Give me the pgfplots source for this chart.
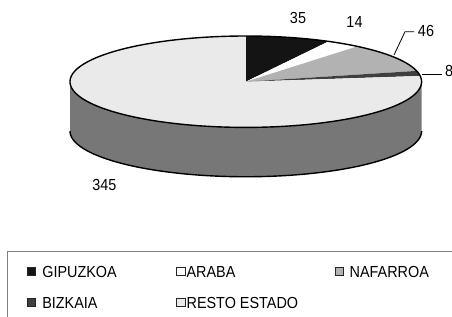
\documentclass[border=0pt]{standalone}
\usepackage{pgfplots}
\pgfplotsset{compat=1.18}
\usepackage{pgfplotstable}
\usepackage{fontspec}
\setmainfont{Liberation Sans}[FakeStretch=0.9]
\definecolor{cG}{HTML}{141414}
\definecolor{cA}{HTML}{FFFFFF}
\definecolor{cN}{HTML}{B2B2B2}
\definecolor{cB}{HTML}{3F3F3F}
\definecolor{cR}{HTML}{EAEAEA}
\definecolor{cSide}{HTML}{777777}
\definecolor{frameGray}{HTML}{808080}

\pgfplotstableread{
region value
GIPUZKOA 35
ARABA 14
NAFARROA 46
BIZKAIA 8
RESTO 345
}\piedata

\begin{document}
\fontsize{16}{19}\selectfont
\begin{tikzpicture}
\pgfplotstablegetelem{0}{value}\of\piedata\let\vG\pgfplotsretval
\pgfplotstablegetelem{1}{value}\of\piedata\let\vA\pgfplotsretval
\pgfplotstablegetelem{2}{value}\of\piedata\let\vN\pgfplotsretval
\pgfplotstablegetelem{3}{value}\of\piedata\let\vB\pgfplotsretval
\pgfplotstablegetelem{4}{value}\of\piedata\let\vR\pgfplotsretval
\pgfmathsetmacro\tot{\vG+\vA+\vN+\vB+\vR}
\pgfmathsetmacro\aG{90}
\pgfmathsetmacro\aA{\aG-(\vG/\tot)*360}
\pgfmathsetmacro\aN{\aA-(\vA/\tot)*360}
\pgfmathsetmacro\aB{\aN-(\vN/\tot)*360}
\pgfmathsetmacro\aR{\aB-(\vB/\tot)*360}
\pgfmathsetmacro\aE{\aR-(\vR/\tot)*360}
\useasboundingbox (0pt,0pt) rectangle (452pt,316pt);
\clip (0pt,0pt) rectangle (452pt,316pt);
\begin{axis}[
  hide axis, x=175.8pt, y=45.7pt,
  xmin=-1.2, xmax=1.2, ymin=-2.3, ymax=1.2,
  clip=false, anchor=origin, at={(245.8pt,234.3pt)},
  legend columns=3,
  legend image code/.code={\draw[#1,draw=black!85,line width=0.6pt] (0pt,2.15pt) rectangle (8.3pt,10.45pt);},
  legend style={draw=none, fill=none, inner sep=0pt,
    at={(axis cs:-1.2463,-4.0284)}, anchor=north west,
    cells={anchor=base west},
    nodes={inner sep=0pt, text height=11.5pt, text depth=3pt},
    row sep=16.5pt,
    /tikz/column 1/.style={column sep=6.5pt},
    /tikz/column 2/.style={column sep=59.5pt},
    /tikz/column 3/.style={column sep=1.5pt},
    /tikz/column 4/.style={column sep=36.7pt},
    /tikz/column 5/.style={column sep=6pt},
  },
]
% side of the pie (front, visible part of RESTO ESTADO)
\addplot[fill=cSide, draw=none, domain=180:360, samples=120, forget plot]
  ({cos(x)},{sin(x)-1.08}) -- (axis cs:1,0) -- (axis cs:-1,0) -- cycle;
\addplot[draw=black, line width=1.4pt, domain=180:360, samples=120, forget plot]
  ({cos(x)},{sin(x)-1.08});
% top faces
\addplot[fill=cG, draw=none, domain=\aA:\aG, samples=30]
  ({cos(x)},{sin(x)}) -- (axis cs:0,0) -- cycle;
\addlegendentry{GIPUZKOA}
\addplot[fill=cA, draw=none, domain=\aN:\aA, samples=20]
  ({cos(x)},{sin(x)}) -- (axis cs:0,0) -- cycle;
\addlegendentry{ARABA}
\addplot[fill=cN, draw=none, domain=\aB:\aN, samples=40]
  ({cos(x)},{sin(x)}) -- (axis cs:0,0) -- cycle;
\addlegendentry{NAFARROA}
\addplot[fill=cB, draw=none, domain=\aR:\aB, samples=10]
  ({cos(x)},{sin(x)}) -- (axis cs:0,0) -- cycle;
\addlegendentry{BIZKAIA}
\addplot[fill=cR, draw=none, domain=\aE:\aR, samples=160]
  ({cos(x)},{sin(x)}) -- (axis cs:0,0) -- cycle;
\addlegendentry{RESTO ESTADO}
% outline of the top
\addplot[draw=black, line width=1.4pt, domain=0:360, samples=200, forget plot]
  ({cos(x)},{sin(x)});
\end{axis}
% data labels
\node at (298pt,298.5pt) {35};
\node at (354.5pt,294pt) {14};
\node at (426pt,285pt) {46};
\node at (449pt,245pt) {8};
\node at (104.3pt,131.5pt) {345};
\draw[black, line width=0.8pt] (394pt,261pt) -- (405pt,284.3pt) -- (414pt,284.3pt);
\draw[black, line width=0.8pt] (421.7pt,242pt) -- (442pt,242pt);
% legend frame
\draw[frameGray, line width=1.3pt] (7.5pt,-20pt) -- (7.5pt,64.7pt) -- (480pt,64.7pt);
\end{tikzpicture}
\end{document}
